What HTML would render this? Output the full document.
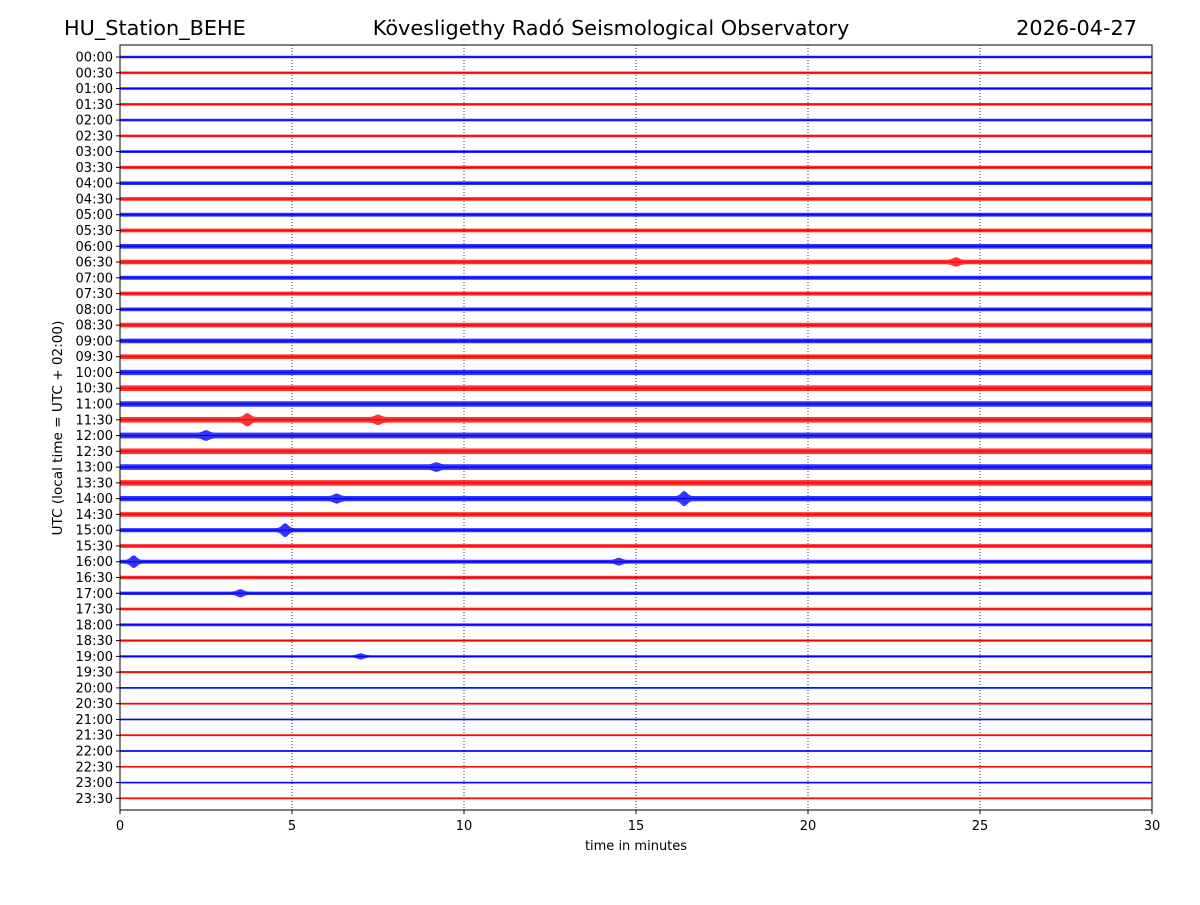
<!DOCTYPE html>
<html><head><meta charset="utf-8"><style>
body{margin:0;background:#fff;}
svg text{font-family:"DejaVu Sans","Liberation Sans",sans-serif;}
</style></head><body>
<svg id="chart" width="1200" height="900" xmlns="http://www.w3.org/2000/svg">
<text x="64" y="35" font-size="20.8">HU_Station_BEHE</text>
<text x="611" y="35" font-size="20.8" text-anchor="middle">Kövesligethy Radó Seismological Observatory</text>
<text x="1137" y="35" font-size="20.8" text-anchor="end">2026-04-27</text>
<text x="636" y="850" font-size="13" text-anchor="middle">time in minutes</text>
<text x="0" y="0" font-size="13.6" text-anchor="middle" transform="translate(62,428) rotate(-90)">UTC (local time = UTC + 02:00)</text>
<g id="grid"></g><g id="traces"></g><g id="axes"></g>
</svg>
<script>
const rowLabels=["00:00","00:30","01:00","01:30","02:00","02:30","03:00","03:30","04:00","04:30","05:00","05:30","06:00","06:30","07:00","07:30","08:00","08:30","09:00","09:30","10:00","10:30","11:00","11:30","12:00","12:30","13:00","13:30","14:00","14:30","15:00","15:30","16:00","16:30","17:00","17:30","18:00","18:30","19:00","19:30","20:00","20:30","21:00","21:30","22:00","22:30","23:00","23:30"];
const baseAmp=[1.3,1.3,1.3,1.3,1.3,1.3,1.4,1.6,1.8,1.8,1.9,1.9,2.3,2.3,2,2,1.9,2.3,2.3,2.3,2.6,2.8,2.8,2.8,2.9,2.8,2.8,2.8,2.6,2.3,2.1,1.9,1.9,1.7,1.7,1.4,1.4,1.2,1.2,1.1,0.9,0.9,0.9,0.9,0.9,0.8,0.9,0.9];
const eventRow=[28,30,32,23,23,24,34,13,28,32,38,26];
const eventMin=[16.4,4.8,0.4,3.7,7.5,2.5,3.5,24.3,6.3,14.5,7,9.2];
const eventAmp=[5,5,4.5,4,2.5,2.5,2.5,2.5,2.5,2,2,2];
const xTicks=[0,5,10,15,20,25,30];
const L=120,R=1152,T=45,B=810;
const xs=m=>L+(R-L)*m/30;
const ys=i=>T+(B-T)*(i+0.76)/48.5;
const NS="http://www.w3.org/2000/svg";
function mk(t,a,p){const e=document.createElementNS(NS,t);for(const k in a)e.setAttribute(k,a[k]);document.getElementById(p).appendChild(e);return e;}
xTicks.slice(1,-1).forEach(m=>{const g=mk('line',{x1:xs(m),x2:xs(m),y1:T,y2:B,stroke:'#000','stroke-width':0.8,'stroke-dasharray':'1,2'},'grid');

});
rowLabels.forEach((lab,i)=>{
 const y=ys(i),top=[],bot=[];
 for(let m=0;m<=30.001;m+=0.05){
  let a=baseAmp[i];
  eventRow.forEach((r,k)=>{if(r===i){const d=(m-eventMin[k])/0.12;a+=eventAmp[k]*Math.exp(-d*d);}});
  top.push(xs(m).toFixed(1)+','+(y-a).toFixed(1));bot.unshift(xs(m).toFixed(1)+','+(y+a).toFixed(1));
 }
 const c=i%2?'#ff0000':'#0000ff';
 const p=mk('polygon',{points:top.concat(bot).join(' '),fill:c,'fill-opacity':0.8,stroke:'none'},'traces');
 
 
 const cl=mk('line',{x1:L,x2:R,y1:y,y2:y,stroke:c,'stroke-width':1.2},'traces');
 
 
 const tk=mk('line',{x1:L-4,x2:L,y1:y,y2:y,stroke:'#000'},'axes');
 
 
 const tx=mk('text',{x:L-7,y:y+4.5,'font-size':13,'text-anchor':'end'},'axes');tx.textContent=lab;
 
 
});
xTicks.forEach(m=>{
 const tk=mk('line',{x1:xs(m),x2:xs(m),y1:B,y2:B+4,stroke:'#000'},'axes');
 
 
 const tx=mk('text',{x:xs(m),y:B+20,'font-size':13,'text-anchor':'middle'},'axes');tx.textContent=m;
 
 
});
const fr=mk('rect',{x:L,y:T,width:R-L,height:B-T,fill:'none',stroke:'#000','stroke-width':1},'axes');


</script>
</body></html>
